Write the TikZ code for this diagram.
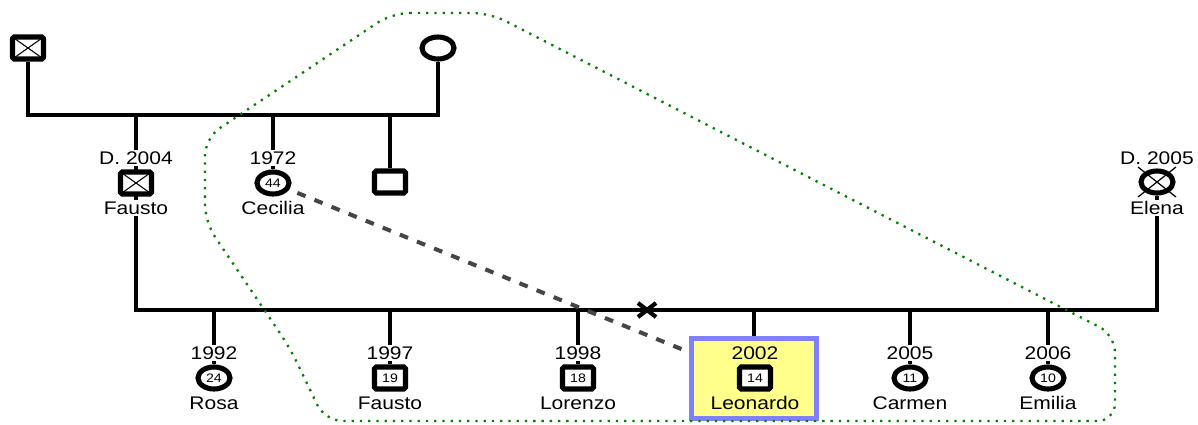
\documentclass[tikz,border=0pt]{standalone}
\usepackage{fontspec}
\setmainfont{Liberation Sans}[FakeStretch=1.15]
\usepackage{xcolor}
\usepackage{tikz}
\usetikzlibrary{shapes.geometric, calc, backgrounds}
\definecolor{vert}{rgb}{0.0, 0.5, 0.0}
\definecolor{jaune}{rgb}{1.0, 1.0, 0.55}
\definecolor{bleu}{rgb}{0.5, 0.5, 1.0}
\definecolor{gris}{rgb}{0.27, 0.27, 0.27}

\tikzset{
  homme/.style={draw, line width=2.9pt, fill=white, rectangle, rounded corners=1pt,
    minimum width=0.62cm, minimum height=0.44cm, inner sep=0pt, font=\fontsize{7}{8}\selectfont},
  femme/.style={draw, line width=2.9pt, fill=white, ellipse,
    minimum width=0.64cm, minimum height=0.44cm, inner sep=0pt, font=\fontsize{7}{8}\selectfont},
  decede/.style={path picture={\draw[line width=0.6pt, sharp corners]
    (path picture bounding box.south west) -- (path picture bounding box.north east)
    (path picture bounding box.north west) -- (path picture bounding box.south east);}},
  texte/.style={fill=white, inner sep=1pt, font=\fontsize{10.4}{12}\selectfont},
  lien/.style={line width=2.6pt},
}

\begin{document}
\begin{tikzpicture}[x=0.02cm, y=-0.02cm]
        \useasboundingbox (0,0) rectangle (1198,424);
        \coordinate (fratrie) at (0,115);
        \coordinate (mariage) at (0,310);

        % Grands-parents
        \node[homme, decede] (gpere) at (28,48) {};
        \node[femme] (gmere) at (438,48) {};

        % Enfants des grands-parents
        \node[homme, decede] (pere) at (136,183) {};
        \node[texte] (perean) at (136,158) {D. 2004};
        \node[texte] (perenom) at (136,208) {Fausto};
        \node[femme] (cecilia) at (273,183) {44};
        \node[texte] (ceciliaan) at (273,158) {1972};
        \node[texte] (cecilianom) at (273,208) {Cecilia};
        \node[homme] (frere) at (390,182) {};

        % Elena
        \node[femme] (elena) at (1157,182) {};
        \draw[line width=0.7pt] ($(elena.center)+(-19,-15)$) -- ($(elena.center)+(19,15)$);
        \draw[line width=0.7pt] ($(elena.center)+(-19,15)$) -- ($(elena.center)+(19,-15)$);
        \node[texte] (elenaan) at (1157,158) {D. 2005};
        \node[texte] (elenanom) at (1157,208) {Elena};

        % Enfants
        \node[femme] (rosa) at (214,378) {24};
        \node[texte] (rosaan) at (214,353) {1992};
        \node[texte] (rosanom) at (214,403) {Rosa};
        \node[homme] (fausto) at (390,378) {19};
        \node[texte] (faustoan) at (390,353) {1997};
        \node[texte] (faustonom) at (390,403) {Fausto};
        \node[homme] (lorenzo) at (578,378) {18};
        \node[texte] (lorenzoan) at (578,353) {1998};
        \node[texte] (lorenzonom) at (578,403) {Lorenzo};
        \node[draw=bleu, fill=jaune, line width=2.4pt, minimum width=2.5cm, minimum height=1.6cm,
          inner sep=0pt] (boite) at (754,378.5) {};
        \node[homme] (leonardo) at (755,378) {14};
        \node[texte, fill=none] (leonardoan) at (755,353) {2002};
        \node[texte, fill=none] (leonardonom) at (755,403) {Leonardo};
        \node[femme] (carmen) at (910,378) {11};
        \node[texte] (carmenan) at (910,353) {2005};
        \node[texte] (carmennom) at (910,403) {Carmen};
        \node[femme] (emilia) at (1048,378) {10};
        \node[texte] (emiliaan) at (1048,353) {2006};
        \node[texte] (emilianom) at (1048,403) {Emilia};

        % Liens
        \begin{scope}[on background layer]
          \draw[lien] (gpere) -- ++(0,67) -| (gmere);
          \draw[lien] (pere |- fratrie) -- (pere |- mariage) -| (elena);
          \draw[lien] (cecilia |- fratrie) -- (cecilia);
          \draw[lien] (frere |- fratrie) -- (frere);
          \draw[lien] (rosa |- mariage) -- (rosa);
          \draw[lien] (fausto |- mariage) -- (fausto);
          \draw[lien] (lorenzo |- mariage) -- (lorenzo);
          \draw[lien] (boite |- mariage) -- (boite);
          \draw[lien] (carmen |- mariage) -- (carmen);
          \draw[lien] (emilia |- mariage) -- (emilia);
        \end{scope}

        % Divorce
        \coordinate (divorce) at (647,310);
        \draw[line width=2.4pt] ($(divorce)+(-9,-7)$) -- ($(divorce)+(9,7)$);
        \draw[line width=2.4pt] ($(divorce)+(-9,7)$) -- ($(divorce)+(9,-7)$);

        % Relation
        \draw[gris, line width=2.3pt, dash pattern=on 5pt off 5.5pt, shorten <=5pt] (cecilia) -- (boite);

        % Zone
        \draw[vert, line width=1.3pt, dash pattern=on 1.3pt off 3.4pt, rounded corners=10pt]
          (392,13) -- (490,13) -- (1115,335) -- (1115,421) -- (325,421)
          -- (290,348) -- (205,222) -- (205,138) -- cycle;
    \end{tikzpicture}
\end{document}
